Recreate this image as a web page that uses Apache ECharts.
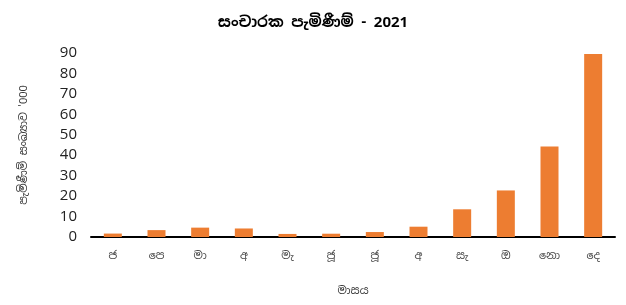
<!DOCTYPE html>
<html>
<head>
<meta charset="utf-8">
<script src="https://cdn.jsdelivr.net/npm/echarts@6/dist/echarts.min.js"></script>
<style>
  html, body { margin: 0; padding: 0; background: #fff; }
  #chart { width: 626px; height: 305px; }
</style>
</head>
<body>
<div id="chart"></div>
<script>
// මාස (months)
var months = ['ජ', 'පෙ', 'මා', 'අ', 'මැ', 'ජූ', 'ජූ', 'අ', 'සැ', 'ඔ', 'නො', 'දෙ'];
// arrivals, thousands
var arrivals = [1.68, 3.37, 4.58, 4.17, 1.50, 1.61, 2.43, 5.04, 13.55, 22.77, 44.29, 89.51];
var yTicks = [0, 10, 20, 30, 40, 50, 60, 70, 80, 90];

var titleText = 'සංචාරක පැමිණීම් - 2021';
var yName = "පැමිණීම් සංඛ්‍යාව '000";
var xName = 'මාසය';

var font = "'Noto Sans Sinhala', 'Noto Sans', 'DejaVu Sans', sans-serif";

var myChart = echarts.init(document.getElementById('chart'));
var option = {
  animation: false,
  textStyle: { fontFamily: font },
  title: {
    text: titleText,
    left: 'center',
    top: 10,
    textStyle: { fontSize: 15, fontWeight: 'bold', color: '#000', fontFamily: font }
  },
  grid: {
    left: 91,
    right: 11,
    top: 53,
    bottom: 68
  },
  xAxis: {
    type: 'category',
    data: months,
    name: xName,
    nameLocation: 'middle',
    nameGap: 48,
    nameTextStyle: { fontSize: 11, color: '#333' },
    axisLine: { lineStyle: { color: '#000', width: 2 } },
    axisTick: { show: false },
    axisLabel: { color: '#444', fontSize: 11, margin: 13, interval: 0 }
  },
  yAxis: {
    type: 'value',
    min: yTicks[0],
    max: yTicks[yTicks.length - 1],
    interval: 10,
    name: yName,
    nameLocation: 'middle',
    nameGap: 62,
    nameRotate: 90,
    nameTextStyle: { fontSize: 11, color: '#333' },
    axisLine: { show: false },
    axisTick: { show: false },
    splitLine: { show: false },
    axisLabel: { color: '#222', fontSize: 15, margin: 14, fontFamily: "'Open Sans', sans-serif" }
  },
  series: [{
    type: 'bar',
    data: arrivals,
    barWidth: 18,
    itemStyle: { color: '#ED7D31' }
  }]
};
myChart.setOption(option);
</script>
</body>
</html>
